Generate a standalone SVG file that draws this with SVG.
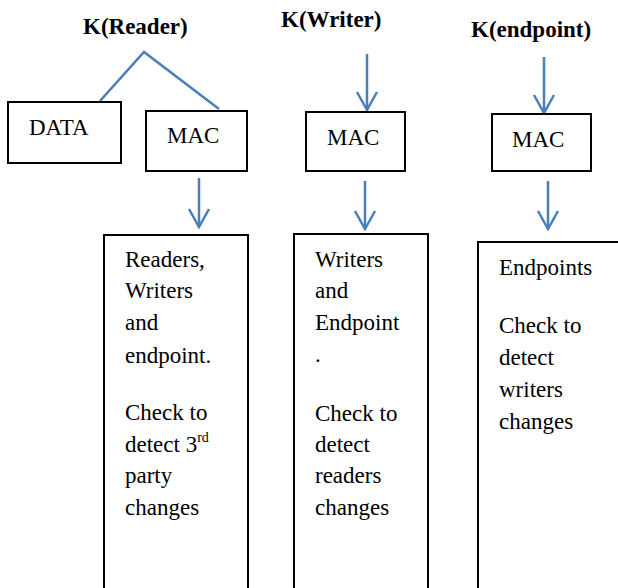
<svg xmlns="http://www.w3.org/2000/svg" width="618" height="588" viewBox="0 0 618 588">
<defs>
<marker id="chev" markerUnits="userSpaceOnUse" markerWidth="24" markerHeight="26" viewBox="-20 -12 24 24" refX="0" refY="0" orient="auto">
<path d="M-18,-10 L0,0 L-18,10" fill="none" stroke="#4a7ebb" stroke-width="2.5"/>
</marker>
</defs>
<style>
.box{fill:#fff;stroke:#000;stroke-width:2}
.c{fill:none;stroke:#4a7ebb;stroke-width:2.5}
.a{fill:none;stroke:#4a7ebb;stroke-width:2.5;marker-end:url(#chev)}
</style>
<rect width="618" height="588" fill="#fff"/>
<g id="diagram" font-family="Liberation Serif" font-size="23" fill="#000">
<g id="labels" font-weight="bold">
<text id="k-reader" x="83" y="34">K(Reader)</text>
<text id="k-writer" x="281" y="27">K(Writer)</text>
<text id="k-endpoint" x="471" y="37">K(endpoint)</text>
</g>
<g id="connectors">
<polyline class="c" points="100,101 144,52 219,109"/>
<line class="a" x1="199" y1="178" x2="199" y2="227"/>
<line class="a" x1="367" y1="54" x2="367" y2="110"/>
<line class="a" x1="365" y1="181" x2="365" y2="229"/>
<line class="a" x1="544" y1="57" x2="544" y2="113"/>
<line class="a" x1="548" y1="181" x2="548" y2="229"/>
</g>
<g id="data">
<rect class="box" x="8" y="102" width="113" height="61"/>
<text x="29" y="135">DATA</text>
</g>
<g id="mac-reader">
<rect class="box" x="146" y="111" width="101" height="60"/>
<text x="167" y="143">MAC</text>
</g>
<g id="mac-writer">
<rect class="box" x="306" y="112" width="99" height="59"/>
<text x="327" y="145">MAC</text>
</g>
<g id="mac-endpoint">
<rect class="box" x="492" y="114" width="99" height="57"/>
<text x="512" y="147">MAC</text>
</g>
<g id="box-reader">
<rect class="box" x="104" y="235" width="144" height="370"/>
<text x="125" y="267">Readers,</text>
<text x="125" y="298">Writers</text>
<text x="125" y="330">and</text>
<text x="125" y="363">endpoint.</text>
<text x="125" y="420">Check to</text>
<text x="125" y="452">detect 3<tspan font-size="14" dy="-10">rd</tspan></text>
<text x="125" y="483">party</text>
<text x="125" y="515">changes</text>
</g>
<g id="box-writer">
<rect class="box" x="294" y="234" width="134" height="370"/>
<text x="315" y="267">Writers</text>
<text x="315" y="298">and</text>
<text x="315" y="330">Endpoint</text>
<text x="315" y="362">.</text>
<text x="315" y="421">Check to</text>
<text x="315" y="452">detect</text>
<text x="315" y="483">readers</text>
<text x="315" y="515">changes</text>
</g>
<g id="box-endpoint">
<rect class="box" x="478" y="242" width="150" height="370"/>
<text x="499" y="275">Endpoints</text>
<text x="499" y="333">Check to</text>
<text x="499" y="365">detect</text>
<text x="499" y="397">writers</text>
<text x="499" y="429">changes</text>
</g>
</g>
</svg>
